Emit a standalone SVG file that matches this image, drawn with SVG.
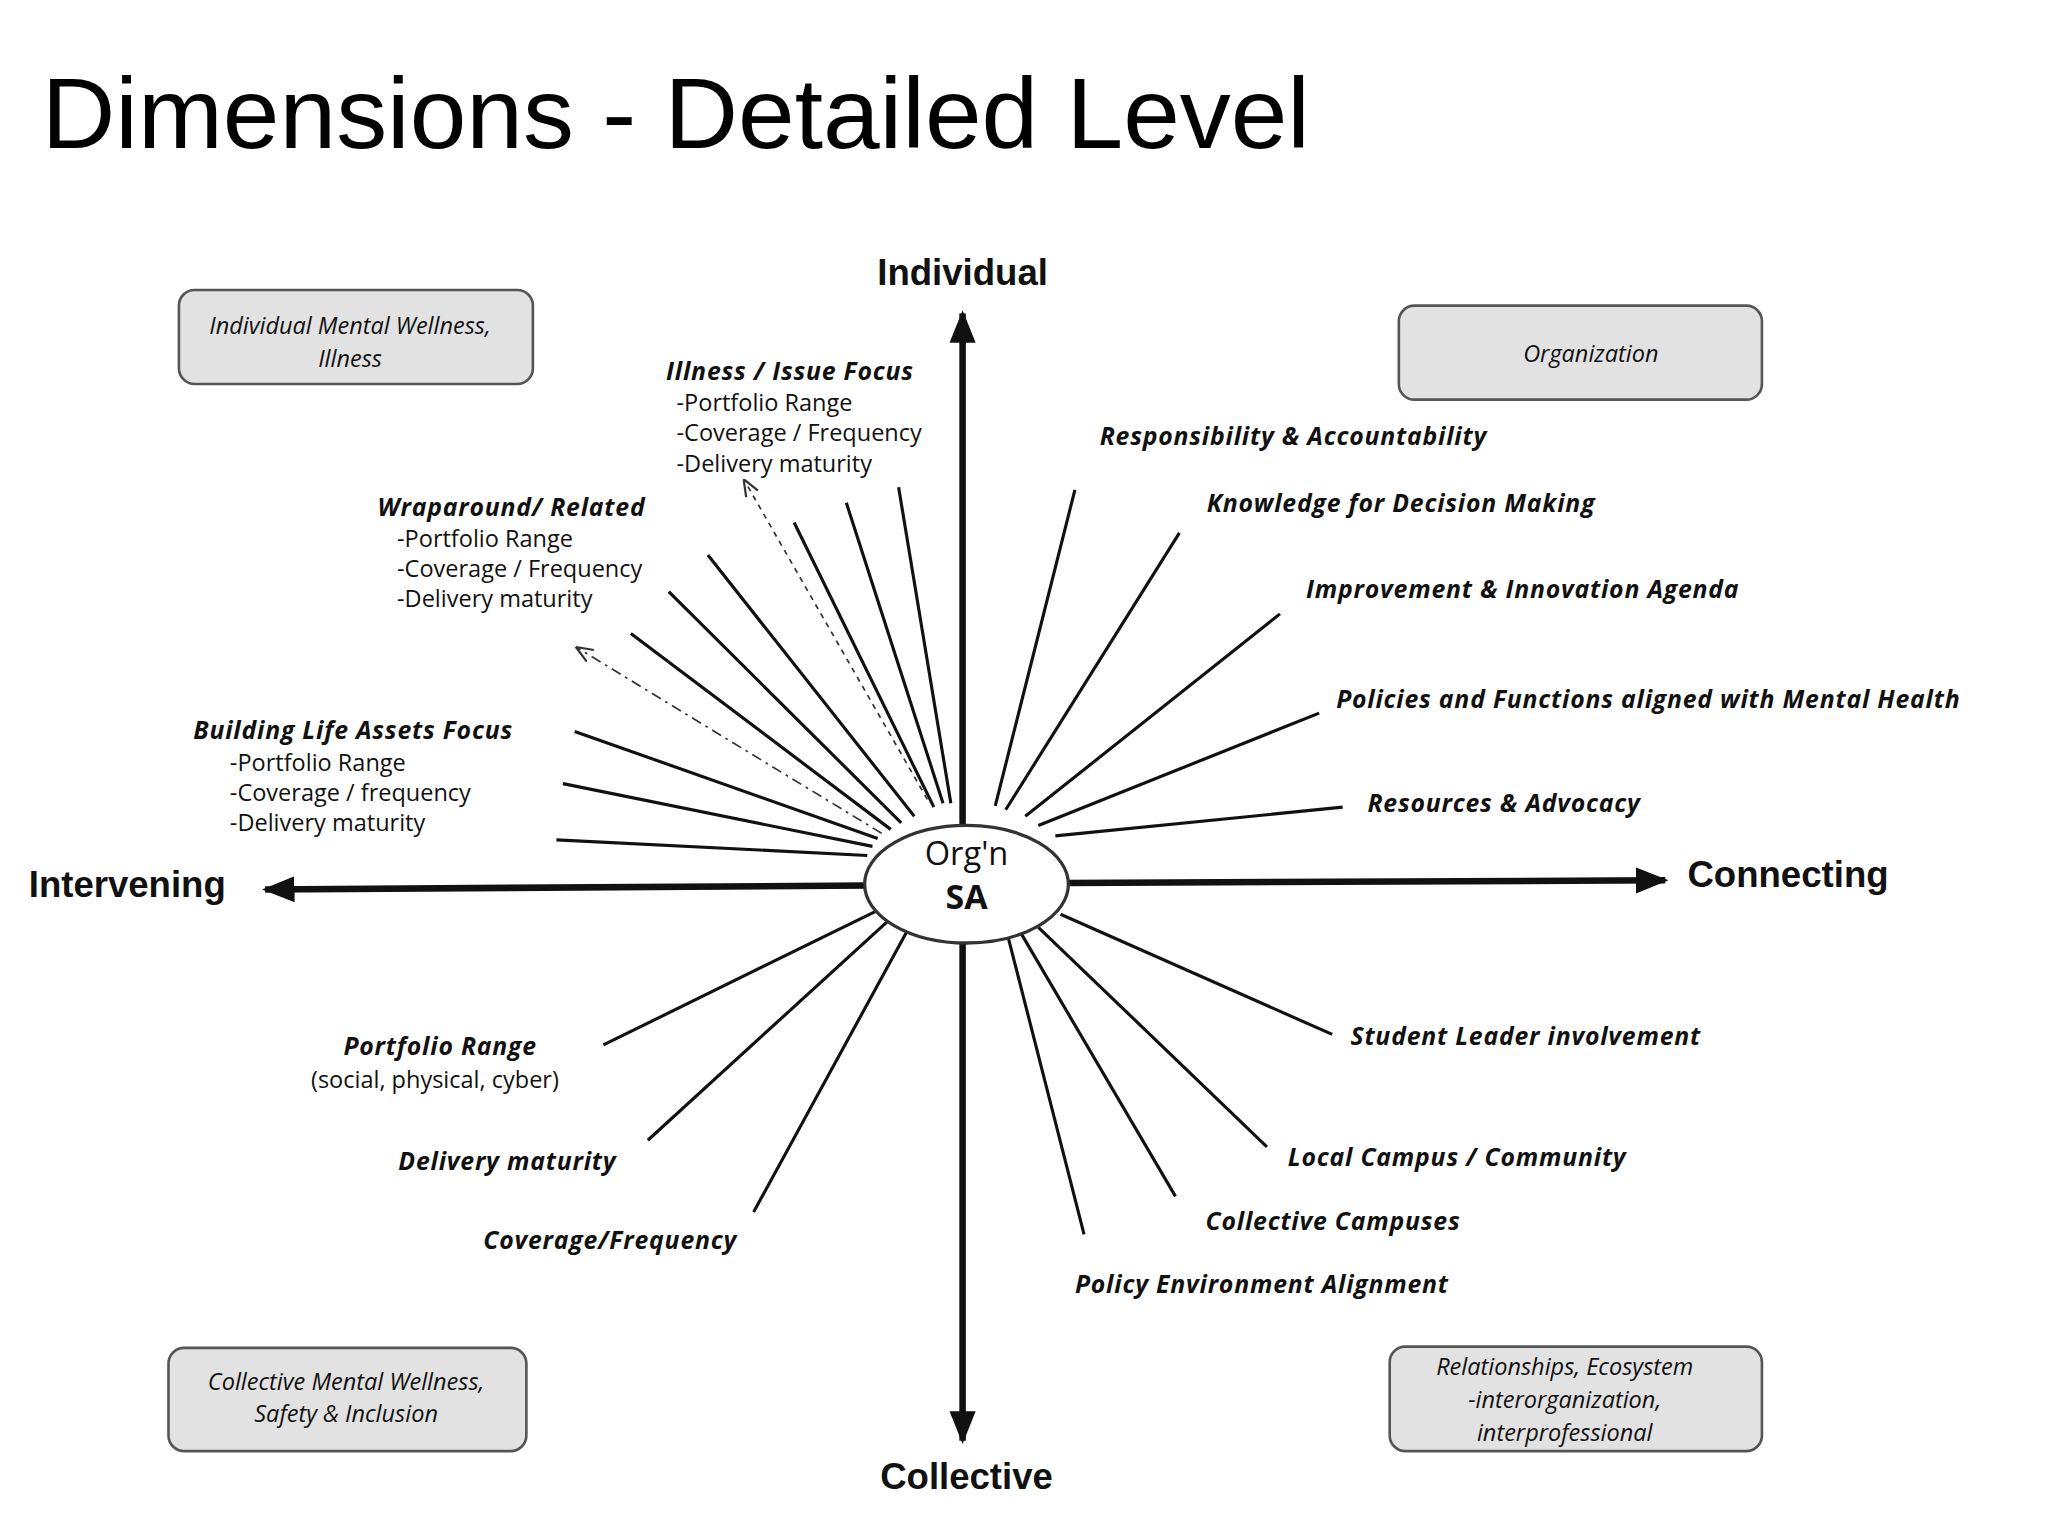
<svg xmlns="http://www.w3.org/2000/svg" width="2048" height="1536" viewBox="0 0 2048 1536">
<style>
.t{font-family:"Open Sans","Liberation Sans",sans-serif;fill:#111}
.bi{font-style:italic;font-weight:bold;font-size:19px;letter-spacing:0.6px}
.it{font-style:italic;font-size:18px}
.n{font-size:18px}
.ax{font-family:"Liberation Sans",Arial,sans-serif;font-weight:bold;font-size:28px;fill:#111}
.box{fill:#e2e2e2;stroke:#555;stroke-width:2}
.sp{stroke:#111;stroke-width:2.4;fill:none}
.axis{stroke:#111;stroke-width:5;fill:none}
.ds{stroke:#333;stroke-width:1.3;fill:none}
</style>
<defs>
<marker id="ah" viewBox="0 0 10 10" refX="9" refY="5" markerWidth="5" markerHeight="5" orient="auto"><path d="M0,1 L10,5 L0,9 z" fill="#111"/></marker>
<marker id="oa" viewBox="0 0 10 10" refX="9" refY="5" markerWidth="10" markerHeight="10" orient="auto"><path d="M0,1 L10,5 L0,9" fill="none" stroke="#333" stroke-width="1.3"/></marker>
</defs>
<rect width="2048" height="1536" fill="#fff"/>
<g transform="scale(1.3061)">
<text x="32" y="113" font-family="Liberation Sans,Arial,sans-serif" font-size="76" fill="#000" textLength="971" lengthAdjust="spacingAndGlyphs">Dimensions - Detailed Level</text>
<g id="connectors">
<path class="sp" d="M688,373L728,615 M648,385L722,615 M608,400L715,618 M542,425L700,625 M512,453L690,630 M483,485L682,635 M440,560L672,642 M431,600L668,648 M426,643L664,655"/>
<path class="sp" d="M823,375L762,617 M903,408L770,620 M980,470L785,625 M1010,546L795,632 M1028,618L808,640"/>
<path class="sp" d="M1020,792L812,700 M970,878L795,710 M900,916L782,715 M830,945L772,718"/>
<path class="sp" d="M462,800L672,697 M496,873L680,705 M577,928L695,712"/>
<path class="ds" stroke-dasharray="4,4" d="M710,612L570,368" marker-end="url(#oa)"/>
<path class="ds" stroke-dasharray="8,4,2,4" d="M675,638L442,496" marker-end="url(#oa)"/>
<path class="axis" d="M737,640L737,240" marker-end="url(#ah)"/>
<path class="axis" d="M737,715L737,1103" marker-end="url(#ah)"/>
<path class="axis" d="M665,678L203,681" marker-end="url(#ah)"/>
<path class="axis" d="M815,676L1275,674" marker-end="url(#ah)"/>
</g>
<g id="center"><ellipse cx="740" cy="677" rx="78" ry="45" fill="#fff" stroke="#333" stroke-width="2.5"/>
<text class="t" x="740" y="662" text-anchor="middle" font-size="25">Org'n</text>
<text class="t" x="740" y="696" text-anchor="middle" font-size="26" font-weight="bold">SA</text></g>
<g id="axes-labels">
<text class="ax" x="737" y="218" text-anchor="middle">Individual</text>
<text class="ax" x="740" y="1140" text-anchor="middle">Collective</text>
<text class="ax" x="22" y="687">Intervening</text>
<text class="ax" x="1292" y="679">Connecting</text>
</g>
<g id="box-iw"><rect class="box" x="137" y="222" width="271" height="72" rx="12"/>
<text class="t it" x="268" y="256" text-anchor="middle">Individual Mental Wellness,</text>
<text class="t it" x="268" y="281" text-anchor="middle">Illness</text></g>
<g id="box-org"><rect class="box" x="1071" y="234" width="278" height="72" rx="12"/>
<text class="t it" x="1218" y="277" text-anchor="middle">Organization</text></g>
<g id="box-cw"><rect class="box" x="129" y="1032" width="274" height="79" rx="12"/>
<text class="t it" x="265" y="1064" text-anchor="middle">Collective Mental Wellness,</text>
<text class="t it" x="265" y="1089" text-anchor="middle">Safety &amp; Inclusion</text></g>
<g id="box-rel"><rect class="box" x="1064" y="1031" width="285" height="80" rx="12"/>
<text class="t it" x="1198" y="1053" text-anchor="middle">Relationships, Ecosystem</text>
<text class="t it" x="1198" y="1078" text-anchor="middle">-interorganization,</text>
<text class="t it" x="1198" y="1103" text-anchor="middle">interprofessional</text></g>
<g id="ul-labels">
<text class="t bi" x="510" y="291">Illness / Issue Focus</text>
<text class="t n" x="518" y="315">-Portfolio Range</text>
<text class="t n" x="518" y="338">-Coverage / Frequency</text>
<text class="t n" x="518" y="361">-Delivery maturity</text>
<text class="t bi" x="289" y="395">Wraparound/ Related</text>
<text class="t n" x="304" y="419">-Portfolio Range</text>
<text class="t n" x="304" y="442">-Coverage / Frequency</text>
<text class="t n" x="304" y="465">-Delivery maturity</text>
<text class="t bi" x="148" y="566">Building Life Assets Focus</text>
<text class="t n" x="176" y="590">-Portfolio Range</text>
<text class="t n" x="176" y="613">-Coverage / frequency</text>
<text class="t n" x="176" y="636">-Delivery maturity</text>
</g>
<g id="ur-labels">
<text class="t bi" x="842" y="341">Responsibility &amp; Accountability</text>
<text class="t bi" x="924" y="392">Knowledge for Decision Making</text>
<text class="t bi" x="1000" y="458">Improvement &amp; Innovation Agenda</text>
<text class="t bi" x="1023" y="542">Policies and Functions aligned with Mental Health</text>
<text class="t bi" x="1047" y="622">Resources &amp; Advocacy</text>
</g>
<g id="lr-labels">
<text class="t bi" x="1034" y="800">Student Leader involvement</text>
<text class="t bi" x="986" y="893">Local Campus / Community</text>
<text class="t bi" x="923" y="942">Collective Campuses</text>
<text class="t bi" x="823" y="990">Policy Environment Alignment</text>
</g>
<g id="ll-labels">
<text class="t bi" x="337" y="808" text-anchor="middle">Portfolio Range</text>
<text class="t n" x="333" y="833" text-anchor="middle">(social, physical, cyber)</text>
<text class="t bi" x="305" y="896">Delivery maturity</text>
<text class="t bi" x="370" y="956">Coverage/Frequency</text>
</g>
</g>
</svg>
